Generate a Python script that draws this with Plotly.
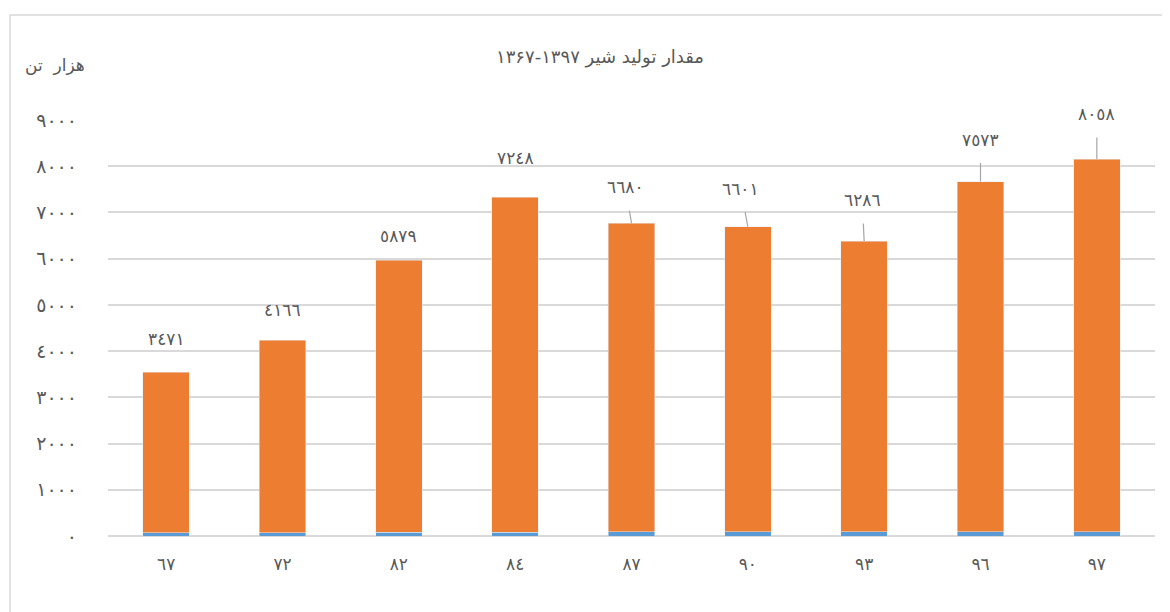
import plotly.graph_objects as go

year_labels = ["٦٧", "٧٢", "٨٢", "٨٤", "٨٧", "٩٠", "٩٣", "٩٦", "٩٧"]
year_series = [67, 72, 82, 84, 87, 90, 93, 96, 97]
milk = [3471, 4166, 5879, 7248, 6680, 6601, 6286, 7573, 8058]
tick_vals = [0, 1000, 2000, 3000, 4000, 5000, 6000, 7000, 8000, 9000]

AR = str.maketrans("0123456789", "٠١٢٣٤٥٦٧٨٩")
def ar(n):
    return str(n).translate(AR)

# label offsets (pixels) relative to bar top, and whether a leader line is drawn
label_dx = [0, 0, 0, 0, -6, -7, -2, 0, 0]
label_dy = [-33, -30, -24, -39, -36, -38, -41, -42, -45]
leader = [False, False, False, False, True, True, True, True, True]

FONT = "DejaVu Sans"
GREY = "#595959"

# figure geometry (page has an 8px body margin)
W, H = 1162, 604
L, R, T, B = 100, 15, 112, 76
PW, PH = W - L - R, H - T - B
OFF = 8

def px(xp):
    return (xp - OFF - L) / PW

def py(yp):
    return (H - B - (yp - OFF)) / PH

fig = go.Figure()
fig.add_trace(go.Bar(x=year_labels, y=year_series, marker=dict(color="#5B9BD5"), width=0.4, hoverinfo="skip"))
fig.add_trace(go.Bar(x=year_labels, y=milk, marker=dict(color="#ED7D31"), width=0.4))

for i, (x, yv, m) in enumerate(zip(year_labels, year_series, milk)):
    top = yv + m
    if leader[i]:
        fig.add_annotation(x=x, y=top, xref="x", yref="y", text=ar(m),
                           showarrow=True, arrowhead=0, arrowwidth=1.2, arrowcolor="#A6A6A6",
                           ax=label_dx[i], ay=label_dy[i], standoff=0, startstandoff=12,
                           font=dict(family=FONT, size=17, color=GREY))
    else:
        fig.add_annotation(x=x, y=top, xref="x", yref="y", text=ar(m),
                           showarrow=False, yshift=-label_dy[i],
                           font=dict(family=FONT, size=17, color=GREY))

fig.add_annotation(x=px(600), y=py(57), xref="paper", yref="paper",
                   xanchor="center", yanchor="middle",
                   text="مقدار تولید شیر ۱۳۹۷-۱۳۶۷",
                   showarrow=False, font=dict(family=FONT, size=18, color=GREY))
fig.add_annotation(x=px(55), y=py(65), xref="paper", yref="paper",
                   xanchor="center", yanchor="middle", text="هزار  تن",
                   showarrow=False, font=dict(family=FONT, size=17, color=GREY))

fig.add_shape(type="rect", xref="paper", yref="paper",
              x0=px(10), x1=px(1200), y0=py(650), y1=py(15),
              line=dict(color="#D9D9D9", width=1.5), layer="below")

fig.update_layout(
    width=W, height=H,
    barmode="stack",
    showlegend=False,
    plot_bgcolor="white", paper_bgcolor="white",
    margin=dict(l=L, r=R, t=T, b=B),
    font=dict(family=FONT, color=GREY),
    xaxis=dict(type="category", showgrid=False,
               showline=False, ticks="", tickfont=dict(size=17, color=GREY),
               ticklabelstandoff=16),
    yaxis=dict(range=[0, 9000], tickvals=tick_vals, ticktext=[ar(v) for v in tick_vals],
               showgrid=True, gridcolor="#D9D9D9", gridwidth=1.5, zeroline=True,
               zerolinecolor="#D9D9D9", zerolinewidth=1.5, ticks="",
               tickfont=dict(size=19, color=GREY), ticklabelstandoff=30),
)

fig.write_html("out.html")
